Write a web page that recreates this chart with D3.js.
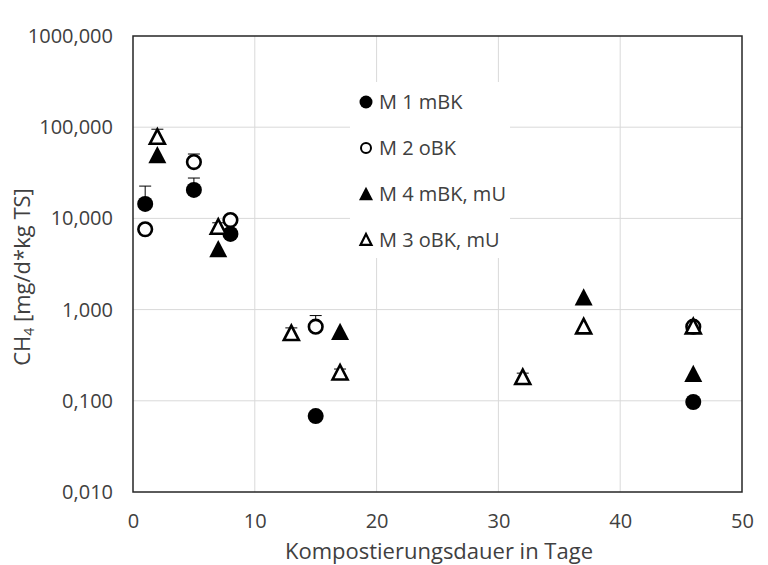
<!DOCTYPE html>
<html>
<head>
<meta charset="utf-8">
<script src="https://cdn.jsdelivr.net/npm/d3@7"></script>
<style>
  html, body { margin: 0; padding: 0; background: #fff; }
  svg text { font-family: "Open Sans", "Liberation Sans", sans-serif; fill: #404040; }
</style>
</head>
<body>
<svg id="chart" width="768" height="565"></svg>
<script>
// Methane emission per day (CH4, mg/d*kg TS) over composting time
const xTicks = [0, 10, 20, 30, 40, 50];
const yTicks = [0.01, 0.1, 1, 10, 100, 1000];

const m1Days = [1, 5, 8, 15, 46];
const m1Vals = [14.4, 20.5, 6.75, 0.068, 0.097];
const m1Err  = [8.2, 7.2, 0, 0, 0];

const m2Days = [1, 5, 8, 15, 46];
const m2Vals = [7.6, 41.5, 9.6, 0.65, 0.65];
const m2Err  = [0, 9.3, 0, 0.21, 0];

const m4Days = [2, 7, 17, 37, 46];
const m4Vals = [49.5, 4.6, 0.57, 1.36, 0.197];
const m4Err  = [0, 0, 0, 0, 0];

const m3Days = [2, 7, 13, 17, 32, 37, 46];
const m3Vals = [78, 8.05, 0.55, 0.203, 0.181, 0.65, 0.65];
const m3Err  = [17, 0.9, 0.08, 0.02, 0.02, 0, 0];

const seriesNames = ["M 1 mBK", "M 2 oBK", "M 4 mBK, mU", "M 3 oBK, mU"];

const series = [
  { name: seriesNames[0], days: m1Days, vals: m1Vals, err: m1Err, shape: "circle", filled: true },
  { name: seriesNames[1], days: m2Days, vals: m2Vals, err: m2Err, shape: "circle", filled: false },
  { name: seriesNames[2], days: m4Days, vals: m4Vals, err: m4Err, shape: "triangle", filled: true },
  { name: seriesNames[3], days: m3Days, vals: m3Vals, err: m3Err, shape: "triangle", filled: false }
];

const svg = d3.select("#chart");
const plotL = 133, plotR = 742, plotT = 36, plotB = 492;

const x = d3.scaleLinear().domain([0, 50]).range([plotL, plotR]);
const y = d3.scaleLog().domain([0.01, 1000]).range([plotB, plotT]);

const fmt = v => d3.format(".3f")(v).replace(".", ",");

// gridlines
svg.append("g").selectAll("line").data(xTicks.slice(1, -1)).join("line")
  .attr("x1", d => x(d)).attr("x2", d => x(d)).attr("y1", plotT).attr("y2", plotB)
  .attr("stroke", "#d9d9d9").attr("stroke-width", 1);
svg.append("g").selectAll("line").data(yTicks.slice(1, -1)).join("line")
  .attr("x1", plotL).attr("x2", plotR).attr("y1", d => y(d)).attr("y2", d => y(d))
  .attr("stroke", "#d9d9d9").attr("stroke-width", 1);

// axes (labels only)
const xAxis = d3.axisBottom(x).tickValues(xTicks).tickSize(0).tickPadding(22).tickFormat(d3.format("d"));
const gx = svg.append("g").attr("transform", `translate(0,${plotB})`).call(xAxis);
gx.select(".domain").remove();
gx.attr("font-family", null).attr("font-size", null);
gx.selectAll("text").attr("font-size", 20).style("fill", "#404040");

const yAxis = d3.axisLeft(y).tickValues(yTicks).tickSize(0).tickPadding(20).tickFormat(fmt);
const gy = svg.append("g").attr("transform", `translate(${plotL},0)`).call(yAxis);
gy.select(".domain").remove();
gy.attr("font-family", null).attr("font-size", null);
gy.selectAll("text").attr("font-size", 20).style("fill", "#404040");

// plot frame
svg.append("rect").attr("x", plotL).attr("y", plotT).attr("width", plotR - plotL).attr("height", plotB - plotT)
  .attr("fill", "none").attr("stroke", "#262626").attr("stroke-width", 1.5);

// axis titles
svg.append("text").attr("x", 439).attr("y", 559).attr("text-anchor", "middle")
  .attr("font-size", 22).text("Kompostierungsdauer in Tage");

const yt = svg.append("text").attr("transform", "translate(30,277) rotate(-90)")
  .attr("text-anchor", "middle").attr("font-size", 22);
yt.append("tspan").text("CH");
yt.append("tspan").attr("font-size", 14).attr("dy", 4).text("4");
yt.append("tspan").attr("dy", -4).text(" [mg/d*kg TS]");

// marker drawing
const triPath = (s) => {
  const h = s * 0.9;
  return `M0,${-h / 2 - 1}L${s / 2},${h / 2}L${-s / 2},${h / 2}Z`;
};
function drawMarker(g, shape, filled, cx, cy) {
  if (shape === "circle") {
    g.append("circle").attr("cx", cx).attr("cy", cy).attr("r", filled ? 8 : 6.8)
      .attr("fill", filled ? "#000" : "#fff").attr("stroke", "#000").attr("stroke-width", filled ? 0 : 2.6);
  } else {
    g.append("path").attr("transform", `translate(${cx},${cy})`).attr("d", filled ? triPath(18) : triPath(15))
      .attr("fill", filled ? "#000" : "#fff").attr("stroke", "#000").attr("stroke-width", filled ? 0 : 2.6)
      .attr("stroke-linejoin", "miter");
  }
}

const pts = svg.append("g");
series.forEach(s => {
  s.days.forEach((d, i) => {
    const v = s.vals[i], e = s.err[i];
    if (e > 0) {
      pts.append("line").attr("x1", x(d)).attr("x2", x(d)).attr("y1", y(v)).attr("y2", y(v + e))
        .attr("stroke", "#000").attr("stroke-width", 1);
      pts.append("line").attr("x1", x(d) - 6).attr("x2", x(d) + 6).attr("y1", y(v + e)).attr("y2", y(v + e))
        .attr("stroke", "#000").attr("stroke-width", 1);
    }
  });
});
series.forEach(s => {
  s.days.forEach((d, i) => drawMarker(pts, s.shape, s.filled, x(d), y(s.vals[i])));
});

// legend
const lg = svg.append("g");
lg.append("rect").attr("x", 350).attr("y", 82).attr("width", 160).attr("height", 176).attr("fill", "#fff");
series.forEach((s, i) => {
  const cy = 102 + i * 46;
  const gi = lg.append("g");
  if (s.shape === "circle") {
    gi.append("circle").attr("cx", 366).attr("cy", cy).attr("r", s.filled ? 6.5 : 5)
      .attr("fill", s.filled ? "#000" : "#fff").attr("stroke", "#000").attr("stroke-width", s.filled ? 0 : 2);
  } else {
    gi.append("path").attr("transform", `translate(366,${cy})`).attr("d", s.filled ? triPath(14) : triPath(11))
      .attr("fill", s.filled ? "#000" : "#fff").attr("stroke", "#000").attr("stroke-width", s.filled ? 0 : 2.2);
  }
  gi.append("text").attr("x", 379).attr("y", cy).attr("dy", "0.35em").attr("font-size", 20).text(s.name);
});
</script>
</body>
</html>
